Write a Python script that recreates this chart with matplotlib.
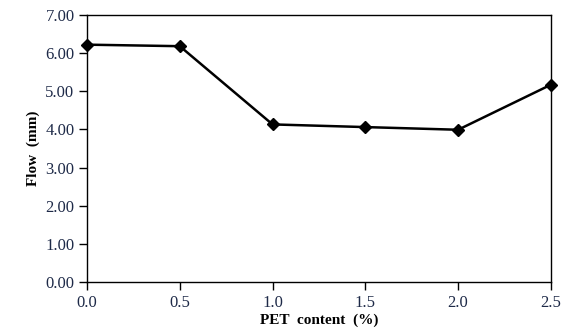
import matplotlib
matplotlib.use("Agg")
import matplotlib.pyplot as plt

pet_content = [0.0, 0.5, 1.0, 1.5, 2.0, 2.5]
flow_mm = [6.22, 6.18, 4.13, 4.06, 3.99, 5.17]
x_ticks = [0.0, 0.5, 1.0, 1.5, 2.0, 2.5]
y_ticks = [0, 1, 2, 3, 4, 5, 6, 7]

plt.rcParams['font.family'] = ['Liberation Serif', 'DejaVu Serif']

fig = plt.figure(figsize=(5.65, 3.31), dpi=100)
ax = fig.add_axes([0.154, 0.148, 0.821, 0.807])
ax.plot(pet_content, flow_mm, color='black', lw=1.8, marker='D', ms=6.5,
        markerfacecolor='black', markeredgecolor='black', clip_on=False, zorder=3)
ax.set_xlim(0, 2.5)
ax.set_ylim(0, 7)
ax.set_xticks(x_ticks)
ax.set_xticklabels([f"{v:.1f}" for v in x_ticks])
ax.set_yticks(y_ticks)
ax.set_yticklabels([f"{v:.2f}" for v in y_ticks])
ax.tick_params(direction='out', length=6, width=1, labelsize=12, labelcolor='#1e2a48', pad=3)
for s in ax.spines.values():
    s.set_linewidth(1.0)
ax.set_xlabel('PET  content  (%)', fontsize=11, fontweight='bold', labelpad=2)
ax.set_ylabel('Flow  (mm)', fontsize=11, fontweight='bold', labelpad=4)
fig.savefig('out.png', dpi=100)
